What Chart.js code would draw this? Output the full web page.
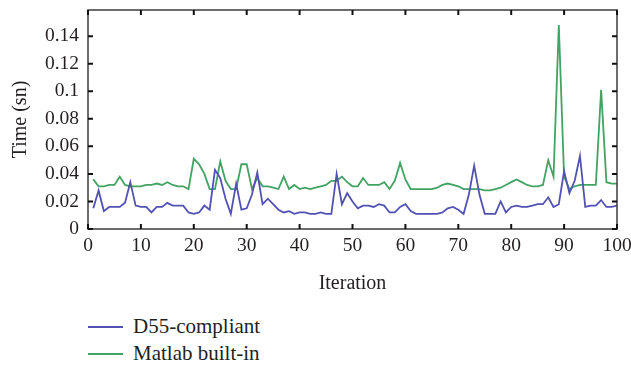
<!DOCTYPE html>
<html>
<head>
<meta charset="utf-8">
<script src="https://cdn.jsdelivr.net/npm/chart.js@4/dist/chart.umd.min.js"></script>
<style>
  body { margin: 0; background: #fff; }
  #wrap { position: relative; width: 631px; height: 300px; }
  #legend { position: absolute; left: 88px; top: 313px; font-family: "Liberation Serif", serif; font-size: 21px; color: #231f20; }
  .item { display: flex; align-items: center; height: 27px; }
  .swatch { width: 35px; height: 2px; margin-right: 10px; }
</style>
</head>
<body>
<div id="wrap"><canvas id="timeChart"></canvas></div>
<div id="legend"></div>
<script>
// Iterations 1..100
const iterations = [
  1, 2, 3, 4, 5, 6, 7, 8, 9, 10, 11, 12, 13, 14, 15, 16, 17, 18, 19, 20,
  21, 22, 23, 24, 25, 26, 27, 28, 29, 30, 31, 32, 33, 34, 35, 36, 37, 38, 39, 40,
  41, 42, 43, 44, 45, 46, 47, 48, 49, 50, 51, 52, 53, 54, 55, 56, 57, 58, 59, 60,
  61, 62, 63, 64, 65, 66, 67, 68, 69, 70, 71, 72, 73, 74, 75, 76, 77, 78, 79, 80,
  81, 82, 83, 84, 85, 86, 87, 88, 89, 90, 91, 92, 93, 94, 95, 96, 97, 98, 99, 100
];

// Temps (sn) - D55-compliant
const d55Times = [
  0.015, 0.028, 0.013, 0.016, 0.016, 0.016, 0.019, 0.034, 0.017, 0.016,
  0.016, 0.012, 0.016, 0.016, 0.019, 0.017, 0.017, 0.017, 0.012, 0.011,
  0.012, 0.017, 0.014, 0.043, 0.037, 0.022, 0.011, 0.033, 0.014, 0.015,
  0.025, 0.041, 0.018, 0.022, 0.018, 0.014, 0.012, 0.013, 0.011, 0.012,
  0.012, 0.011, 0.011, 0.012, 0.011, 0.011, 0.040, 0.018, 0.026, 0.020,
  0.015, 0.017, 0.017, 0.016, 0.018, 0.017, 0.012, 0.012, 0.016, 0.018,
  0.013, 0.011, 0.011, 0.011, 0.011, 0.011, 0.012, 0.015, 0.016, 0.014,
  0.011, 0.025, 0.046, 0.025, 0.011, 0.011, 0.011, 0.020, 0.012, 0.016,
  0.017, 0.016, 0.016, 0.017, 0.018, 0.018, 0.023, 0.016, 0.018, 0.042,
  0.026, 0.035, 0.053, 0.016, 0.017, 0.017, 0.021, 0.016, 0.016, 0.017
];

// Temps (sn) - Matlab built-in
const matlabTimes = [
  0.036, 0.031, 0.031, 0.032, 0.032, 0.038, 0.032, 0.031, 0.031, 0.031,
  0.032, 0.032, 0.033, 0.032, 0.034, 0.032, 0.031, 0.031, 0.029, 0.051,
  0.047, 0.040, 0.029, 0.029, 0.049, 0.035, 0.029, 0.029, 0.047, 0.047,
  0.029, 0.037, 0.031, 0.031, 0.030, 0.029, 0.038, 0.029, 0.032, 0.029,
  0.030, 0.029, 0.030, 0.031, 0.032, 0.035, 0.035, 0.038, 0.034, 0.031,
  0.031, 0.037, 0.032, 0.032, 0.032, 0.034, 0.029, 0.035, 0.048, 0.036,
  0.029, 0.029, 0.029, 0.029, 0.029, 0.030, 0.032, 0.033, 0.032, 0.031,
  0.029, 0.029, 0.029, 0.029, 0.028, 0.028, 0.029, 0.030, 0.032, 0.034,
  0.036, 0.034, 0.032, 0.031, 0.031, 0.032, 0.050, 0.038, 0.148, 0.038,
  0.029, 0.031, 0.032, 0.032, 0.032, 0.032, 0.101, 0.034, 0.033, 0.033
];

const yTicks = [0, 0.02, 0.04, 0.06, 0.08, 0.1, 0.12, 0.14];

const serif = "'Liberation Serif', serif";
const inkColor = "#231f20";

// cadre + petites graduations vers l'intérieur
const frameTicks = {
  id: "frameTicks",
  afterDatasetsDraw(chart) {
    const { ctx, chartArea: a, scales: { x, y } } = chart;
    ctx.save();
    ctx.strokeStyle = "#3d3d3d";
    ctx.lineWidth = 1.5;
    ctx.strokeRect(a.left, a.top, a.right - a.left, a.bottom - a.top);
    ctx.strokeStyle = "#111";
    ctx.lineWidth = 2;
    ctx.beginPath();
    x.ticks.forEach(t => {
      const px = x.getPixelForValue(t.value);
      ctx.moveTo(px, a.bottom); ctx.lineTo(px, a.bottom - 5);
      ctx.moveTo(px, a.top); ctx.lineTo(px, a.top + 5);
    });
    y.ticks.forEach(t => {
      const py = y.getPixelForValue(t.value);
      ctx.moveTo(a.left, py); ctx.lineTo(a.left + 5, py);
      ctx.moveTo(a.right, py); ctx.lineTo(a.right - 5, py);
    });
    ctx.stroke();
    ctx.restore();
  }
};

const ctx = document.getElementById("timeChart").getContext("2d");

const chart = new Chart(ctx, {
  type: "line",
  data: {
    labels: iterations,
    datasets: [
      { label: "D55-compliant", data: d55Times, borderColor: "#5252b4", borderWidth: 1.8, pointRadius: 0, tension: 0 },
      { label: "Matlab built-in", data: matlabTimes, borderColor: "#43a363", borderWidth: 1.8, pointRadius: 0, tension: 0 }
    ]
  },
  options: {
    responsive: true,
    maintainAspectRatio: false,
    animation: false,
    layout: { padding: { top: 10, right: 14, left: 0, bottom: 0 } },
    plugins: {
      legend: { display: false },
      tooltip: { enabled: false }
    },
    scales: {
      x: {
        type: "linear",
        min: 0,
        max: 100,
        grid: { display: false, drawTicks: false },
        border: { display: false },
        ticks: { stepSize: 10, maxRotation: 0, autoSkip: false, padding: 5, color: inkColor, font: { family: serif, size: 19.5 } },
        title: { display: true, text: "Iteration", color: inkColor, font: { family: serif, size: 20 }, padding: { top: 0, bottom: 4 } },
        afterFit: s => { s.height = 71; s.paddingLeft = 0; s.paddingRight = 0; }
      },
      y: {
        min: 0,
        max: 0.159,
        grid: { display: false, drawTicks: false },
        border: { display: false },
        afterBuildTicks: s => { s.ticks = yTicks.map(v => ({ value: v })); },
        ticks: {
          padding: 9,
          color: inkColor,
          font: { family: serif, size: 19.5 },
          callback: v => String(+v.toFixed(2))
        },
        title: { display: true, text: "Time (sn)", color: inkColor, font: { family: serif, size: 20 }, padding: { top: 9, bottom: 0 } },
        afterFit: s => { s.width = 88; s.paddingTop = 0; s.paddingBottom = 0; }
      }
    }
  },
  plugins: [frameTicks]
});

// légende en bas, une entrée par ligne
const legend = document.getElementById("legend");
chart.data.datasets.forEach(ds => {
  const row = document.createElement("div");
  row.className = "item";
  const sw = document.createElement("span");
  sw.className = "swatch";
  sw.style.background = ds.borderColor;
  const txt = document.createElement("span");
  txt.textContent = ds.label;
  row.appendChild(sw);
  row.appendChild(txt);
  legend.appendChild(row);
});
</script>
</body>
</html>
